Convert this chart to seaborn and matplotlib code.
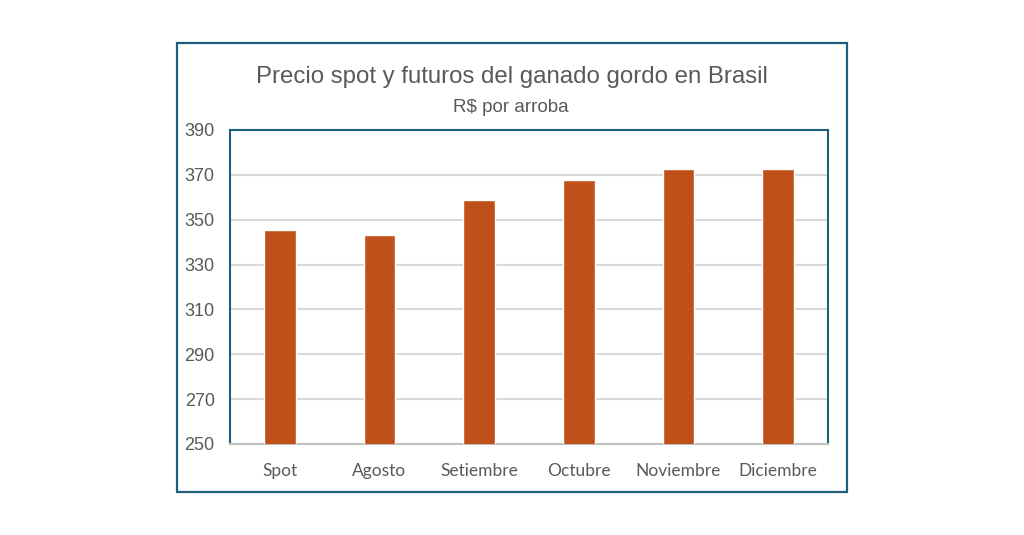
import matplotlib
matplotlib.use("Agg")
import matplotlib.pyplot as plt
import seaborn as sns
import pandas as pd
from matplotlib.patches import Rectangle

# data
categorias = ['Spot', 'Agosto', 'Setiembre', 'Octubre', 'Noviembre', 'Diciembre']
precios = [345.6, 343.3, 358.9, 367.8, 372.7, 372.7]
y_ticks = [250, 270, 290, 310, 330, 350, 370, 390]

titulo = 'Precio spot y futuros del ganado gordo en Brasil'
subtitulo = 'R$ por arroba'

df = pd.DataFrame({'mes': categorias, 'precio': precios})

sns.set_theme(style='white')
plt.rcParams['font.family'] = ['Liberation Sans Narrow', 'Liberation Sans', 'DejaVu Sans']

bar_color = '#C0501A'
frame_color = '#1F5F7E'
text_color = '#595959'

fig = plt.figure(figsize=(10.24, 5.35), dpi=100)
ax = fig.add_axes([0.2246, 0.1701, 0.584, 0.587])

sns.barplot(data=df, x='mes', y='precio', color=bar_color, width=0.32,
            saturation=1, ax=ax, zorder=3)

ax.set_ylim(250, 390)
ax.set_yticks(y_ticks)
ax.set_xlim(-0.5, len(categorias) - 0.5)
ax.yaxis.grid(True, color='#D9D9D9', linewidth=1.5, zorder=0)
ax.set_axisbelow(True)
ax.set_xlabel('')
ax.set_ylabel('')

for side in ['left', 'top', 'right']:
    ax.spines[side].set_color(frame_color)
    ax.spines[side].set_linewidth(1.5)
ax.spines['bottom'].set_color('#BFBFBF')
ax.spines['bottom'].set_linewidth(1.5)

ax.tick_params(axis='y', length=0, pad=11, labelsize=13, labelcolor=text_color)
ax.tick_params(axis='x', length=0, pad=14, labelcolor=text_color)
for lbl in ax.get_xticklabels():
    lbl.set_fontfamily(['Lato', 'DejaVu Sans'])
    lbl.set_fontsize(12.5)

fig.text(0.5, 0.856, titulo, ha='center', va='center', fontsize=17.3, color=text_color)
fig.text(0.499, 0.8, subtitulo, ha='center', va='center', fontsize=13.5, color=text_color)

fig.patches.append(Rectangle((0.1729, 0.0804), 0.654, 0.839, transform=fig.transFigure,
                             fill=False, edgecolor=frame_color, linewidth=1.6))

fig.savefig('out.png', dpi=100)
